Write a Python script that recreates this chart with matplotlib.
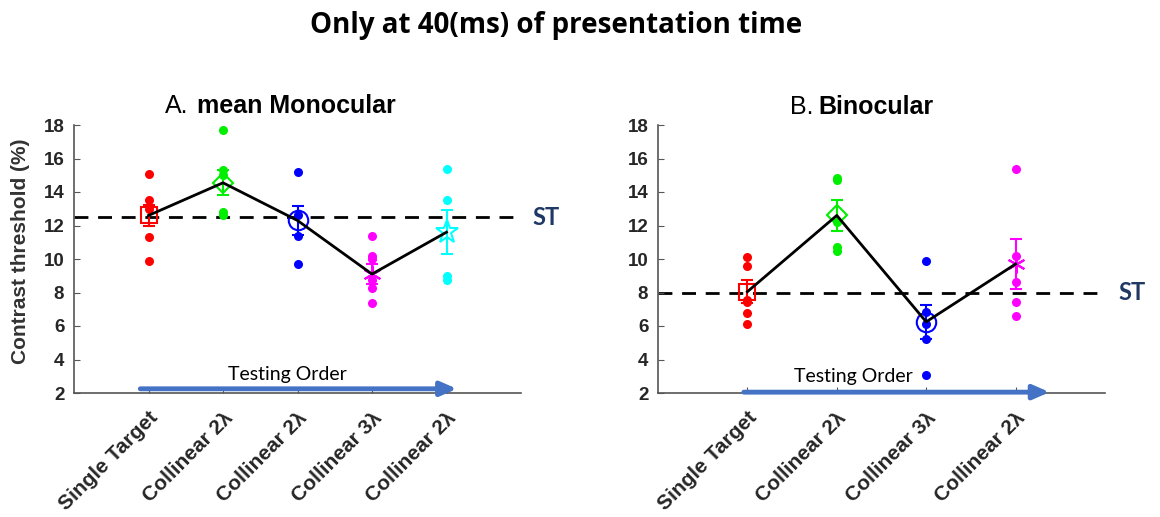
import numpy as np
import matplotlib.pyplot as plt
from matplotlib.transforms import ScaledTranslation

plt.rcParams['font.family'] = ['Liberation Sans', 'DejaVu Sans']

# --- data ---
labels_a = ['Single Target', 'Collinear 2λ', 'Collinear 2λ', 'Collinear 3λ', 'Collinear 2λ']
labels_b = ['Single Target', 'Collinear 2λ', 'Collinear 3λ', 'Collinear 2λ']

# panel A: individual subjects per condition
dots_a = [
    [15.1, 13.5, 13.0, 11.3, 9.9],
    [17.7, 15.3, 15.0, 12.8, 12.6],
    [15.2, 12.6, 11.4, 9.7],
    [11.4, 10.2, 10.0, 8.75, 8.25, 7.4],
    [15.4, 13.5, 9.0, 8.75],
]
mean_a = [12.6, 14.55, 12.3, 9.1, 11.6]
sem_a = [0.65, 0.75, 0.85, 0.6, 1.3]
st_a = 12.5

# panel B
dots_b = [
    [10.1, 9.6, 7.55, 7.45, 6.8, 6.1],
    [14.85, 14.7, 12.2, 10.7, 10.45],
    [9.9, 6.85, 6.1, 5.2, 3.05],
    [15.4, 10.2, 8.65, 7.45, 6.6],
]
mean_b = [8.05, 12.6, 6.25, 9.7]
sem_b = [0.7, 0.9, 1.0, 1.5]
st_b = 8.0

colors_a = ['#ff0000', '#00ee00', '#0000ff', '#ff00ff', '#00ffff']
markers_a = ['s', 'D', 'o', (6, 2, 0), '*']
msizes_a = [11, 10, 14, 13, 17]
colors_b = ['#ff0000', '#00ee00', '#0000ff', '#ff00ff']
markers_b = ['s', 'D', 'o', (6, 2, 0)]
msizes_b = [11, 10, 14, 13]

tick_col = '#262626'
navy = '#1f3864'
arrow_col = '#4472c4'

W, H = 1160, 517
fig = plt.figure(figsize=(W / 100, H / 100), dpi=100)
fig.text(556 / W, 1 - 33 / H, 'Only at 40(ms) of presentation time', ha='center', va='baseline',
         fontsize=20, fontweight='bold', family='Open Sans')

ax1 = fig.add_axes([74 / W, 1 - 393 / H, 447 / W, 268 / H])
ax2 = fig.add_axes([658 / W, 1 - 393 / H, 447 / W, 268 / H])


def draw_panel(ax, dots, means, sems, colors, markers, msizes, labels, st, xmax,
               arrow_x, arrow_y, text_x, text_y):
    x = np.arange(1, len(means) + 1)
    for i, d in enumerate(dots):
        ax.plot([x[i]] * len(d), d, 'o', color=colors[i], ms=6.5, mec='none', zorder=2)
    for i in range(len(means)):
        mk = markers[i]
        ax.errorbar(x[i], means[i], yerr=sems[i], fmt='none', ecolor=colors[i],
                    elinewidth=1.5, capsize=4, capthick=1.5, zorder=3)
        if isinstance(mk, tuple):
            ax.plot(x[i], means[i], marker=mk, color=colors[i], ms=msizes[i], mew=1.5,
                    zorder=3, ls='none')
        else:
            ax.plot(x[i], means[i], marker=mk, mfc='none', mec=colors[i], ms=msizes[i],
                    mew=1.5, zorder=3, ls='none')
    ax.plot(x, means, color='black', lw=2, zorder=4)
    ax.axhline(st, color='black', ls=(0, (5, 3.5)), lw=2, zorder=1)

    ax.annotate('', xy=(arrow_x[1], arrow_y), xytext=(arrow_x[0], arrow_y),
                arrowprops=dict(arrowstyle='-|>,head_length=0.8,head_width=0.35',
                                mutation_scale=12, color=arrow_col, lw=3.5,
                                shrinkA=0, shrinkB=0),
                zorder=5, annotation_clip=False)
    ax.text(text_x, text_y, 'Testing Order', ha='center', va='center', fontsize=14,
            family='Lato', color='black')

    ax.set_xlim(0, xmax)
    ax.set_ylim(2, 18)
    ax.set_yticks(np.arange(2, 19, 2))
    ax.set_xticks(x)
    ax.set_xticklabels(labels, rotation=45, ha='right', rotation_mode='anchor',
                       fontsize=15, fontweight='bold', color=tick_col)
    shift = ScaledTranslation(13 / 100, 0, fig.dpi_scale_trans)
    for t in ax.get_xticklabels():
        t.set_transform(t.get_transform() + shift)
    for t in ax.get_yticklabels():
        t.set_fontsize(13.5)
        t.set_fontweight('bold')
        t.set_color(tick_col)
    ax.tick_params(axis='y', direction='in', length=4, color='#555555', pad=7)
    ax.tick_params(axis='x', direction='in', length=4, color='#555555', pad=11)
    for s in ['top', 'right']:
        ax.spines[s].set_visible(False)
    for s in ['left', 'bottom']:
        ax.spines[s].set_color('#555555')
        ax.spines[s].set_linewidth(1.2)


draw_panel(ax1, dots_a, mean_a, sem_a, colors_a, markers_a, msizes_a, labels_a, st_a, 6,
           (0.89, 5.14), 2.25, 2.86, 3.1)
draw_panel(ax2, dots_b, mean_b, sem_b, colors_b, markers_b, msizes_b, labels_b, st_b, 5,
           (0.96, 4.38), 2.05, 2.19, 3.0)

fig.text(21 / W, 1 - 251 / H, 'Contrast threshold (%)', rotation=90, ha='center', va='center',
         fontsize=15, fontweight='bold', color='#333333')

fig.text(165 / W, 1 - 113 / H, 'A.', ha='left', va='baseline', fontsize=18)
fig.text(197 / W, 1 - 113 / H, 'mean Monocular', ha='left', va='baseline', fontsize=18,
         fontweight='bold')
fig.text(790 / W, 1 - 114 / H, 'B.', ha='left', va='baseline', fontsize=18)
fig.text(818 / W, 1 - 114 / H, 'Binocular', ha='left', va='baseline', fontsize=18,
         fontweight='bold')

ax1.text(6.16, st_a, 'ST', ha='left', va='center', fontsize=17, fontweight='bold',
         family='Lato', color=navy)
ax2.text(5.15, st_b, 'ST', ha='left', va='center', fontsize=17, fontweight='bold',
         family='Lato', color=navy)

fig.savefig('out.png', dpi=100)
